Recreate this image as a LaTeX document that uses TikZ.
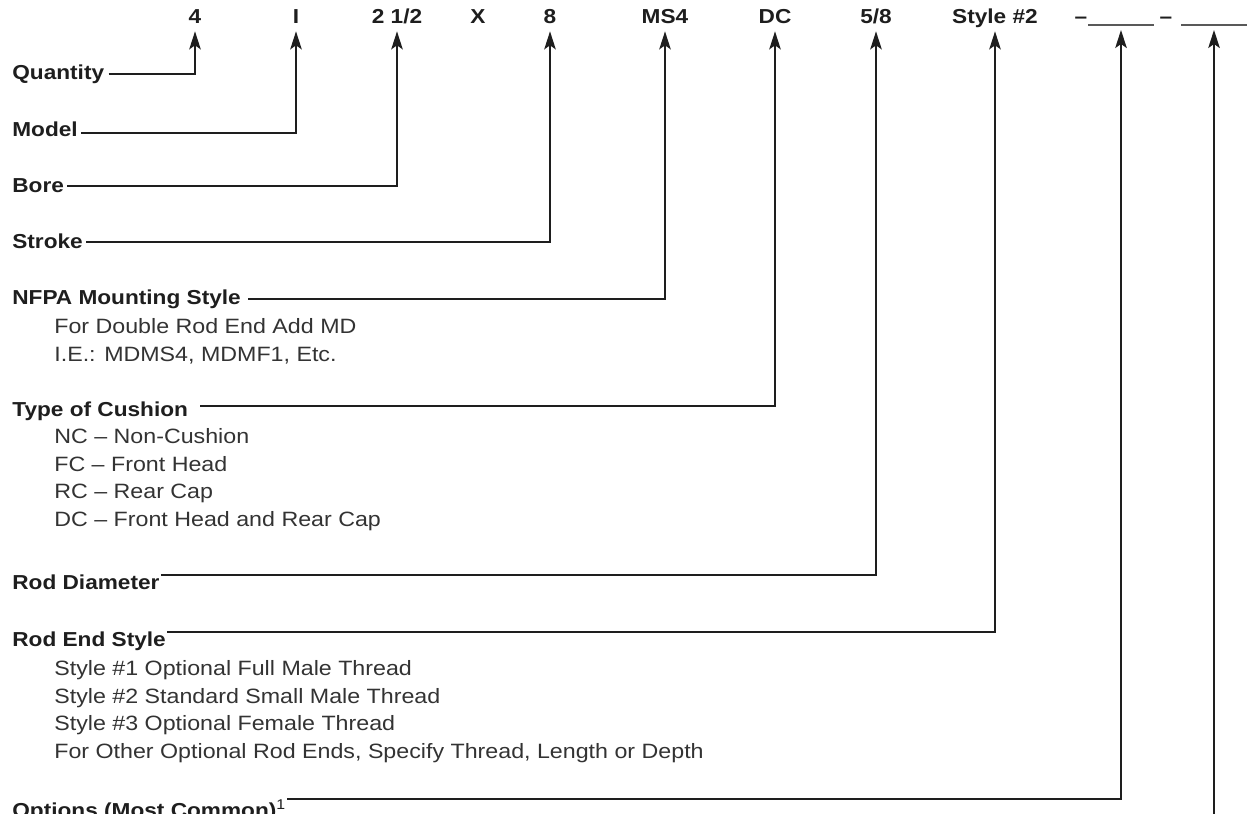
\documentclass[tikz,border=0pt]{standalone}
\usepackage{fontspec}
\setmainfont{Liberation Sans}[FakeStretch=1.12]
\usepackage{xcolor}
\usetikzlibrary{arrows.meta}
\definecolor{ink}{HTML}{1E1E1E}
\definecolor{subink}{HTML}{333333}

\begin{document}
\begin{tikzpicture}[
  x=0.2mm,
  y=-0.2mm,
  code/.style={font=\fontsize{11.5}{14}\selectfont\bfseries, text=ink, anchor=base, inner xsep=0pt, inner ysep=0.4mm, text depth=0pt},
  lbl/.style={font=\fontsize{11.5}{14}\selectfont\bfseries, text=ink, anchor=base west, inner sep=0pt},
  sub/.style={font=\fontsize{11.8}{15.6}\selectfont, text=subink, anchor=base west, inner sep=0pt, align=left},
  lead/.style={draw=ink, line width=1.1pt, -{Stealth[length=3.6mm,width=2.3mm,inset=0.8mm]}, shorten >=1mm},
  blank/.style={minimum width=13mm, minimum height=0pt, inner sep=0pt, anchor=south},
  blankline/.style={draw=gray!70!black, line width=0.7pt}
]
\useasboundingbox[fill=white] (0,0) rectangle (1253,814);
\foreach \name/\x/\txt in {c4/195/4,cI/296/I,cBore/397/{2 1/2},cX/478/X,c8/550/8,
  cMS/665/MS4,cDC/775/DC,cRod/876/{5/8},cStyle/995/{Style \#2}} {
  \node[code] (\name) at (\x,24) {\txt};
}
\node[code] (dashA) at (1081,24) {--};
\node[code] (dashB) at (1166,24) {--};
\node[blank] (blankA) at (1121,25) {};
\node[blank] (blankB) at (1214,25) {};
\draw[blankline] (blankA.south west) -- (blankA.south east);
\draw[blankline] (blankB.south west) -- (blankB.south east);

\node[lbl] (qty) at (12,80) {Quantity};
\node[lbl] (model) at (12,137) {Model};
\node[lbl] (bore) at (12,193) {Bore};
\node[lbl] (stroke) at (12,249) {Stroke};
\node[lbl] (mount) at (12,305) {NFPA Mounting Style};
\node[sub] (mountsub) at (54,361) {For Double Rod End Add MD\\I.E.: MDMS4, MDMF1, Etc.};
\node[lbl] (cushion) at (12,416) {Type of Cushion};
\node[sub] (cushionsub) at (54,526) {NC -- Non-Cushion\\FC -- Front Head\\RC -- Rear Cap\\DC -- Front Head and Rear Cap};
\node[lbl] (roddia) at (12,589) {Rod Diameter};
\node[lbl] (rodend) at (12,646) {Rod End Style};
\node[sub] (rodendsub) at (54,758) {Style \#1 Optional Full Male Thread\\Style \#2 Standard Small Male Thread\\Style \#3 Optional Female Thread\\For Other Optional Rod Ends, Specify Thread, Length or Depth};
\node[lbl] (options) at (12,817) {Options (Most Common)\textsuperscript{\mdseries 1}};
\coordinate (optend) at (1214,840);

\draw[lead] ([xshift=0.8mm,yshift=1.2mm]qty.base east) -| (c4.south);
\draw[lead] ([xshift=0.6mm,yshift=0.8mm]model.base east) -| (cI.south);
\draw[lead] ([xshift=0.6mm,yshift=1.4mm]bore.base east) -| (cBore.south);
\draw[lead] ([xshift=0.6mm,yshift=1.4mm]stroke.base east) -| (c8.south);
\draw[lead] ([xshift=1.4mm,yshift=1.2mm]mount.base east) -| (cMS.south);
\draw[lead] ([xshift=2.4mm,yshift=2mm]cushion.base east) -| (cDC.south);
\draw[lead] ([xshift=0.2mm,yshift=2.8mm]roddia.base east) -| (cRod.south);
\draw[lead] ([xshift=0.2mm,yshift=2.8mm]rodend.base east) -| (cStyle.south);
\draw[lead] ([xshift=0.2mm,yshift=3.6mm]options.base east) -| (blankA.south);
\draw[lead] (optend) -- (blankB.south);
\end{tikzpicture}
\end{document}
